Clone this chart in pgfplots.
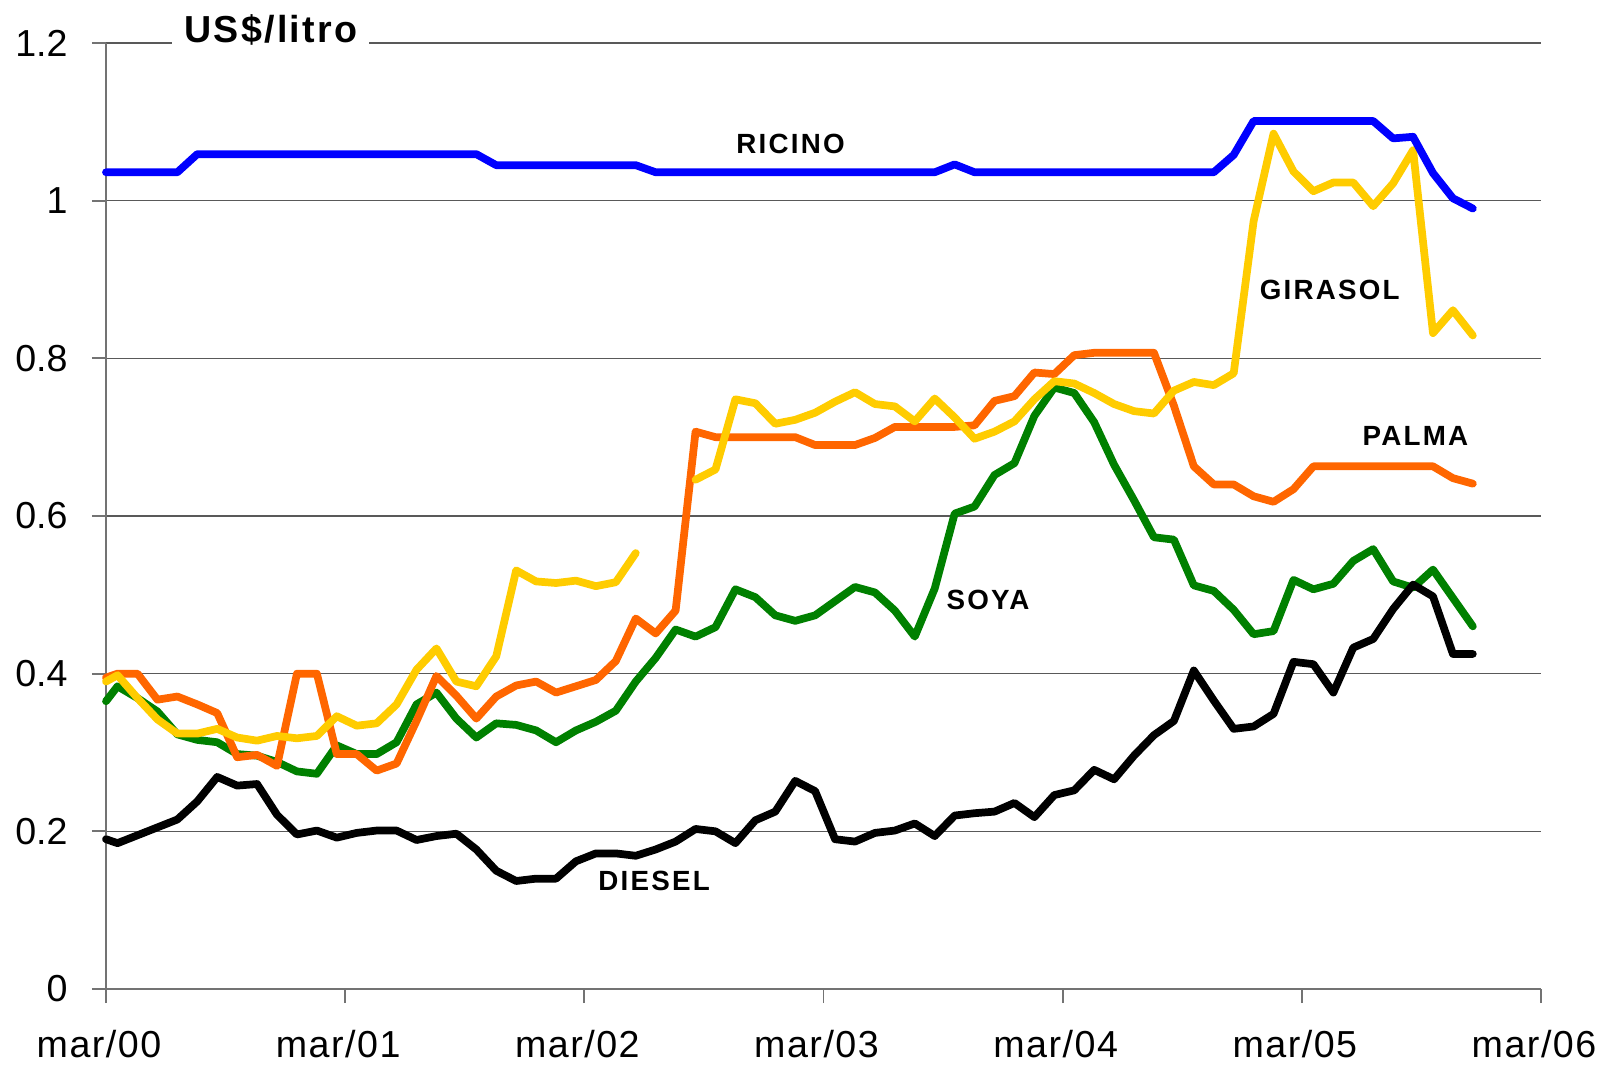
\documentclass[border=0pt]{standalone}
\usepackage{fontspec}
\setmainfont{Liberation Sans}
\newfontfamily\lblfont[LetterSpace=8]{Liberation Sans}
\newfontfamily\titlefont[LetterSpace=6]{Liberation Sans}
\newfontfamily\tickfont[LetterSpace=4]{Liberation Sans}
\usepackage{pgfplots}
\usepackage{pgfplotstable}
\pgfplotsset{compat=1.18}

\definecolor{ricino}{RGB}{0,0,255}
\definecolor{girasol}{RGB}{255,204,0}
\definecolor{palma}{RGB}{255,102,0}
\definecolor{soya}{RGB}{0,128,0}

% months since mar/00; US$/litro
\pgfplotstableread{
x      ric    gir    pal    soy    die
0      1.036  0.390  0.395  0.365  0.190
0.58   1.036  0.398  0.400  0.384  0.185
1.58   1.036  0.369  0.400  0.369  0.195
2.58   1.036  0.342  0.367  0.352  0.205
3.58   1.036  0.324  0.371  0.323  0.215
4.58   1.059  0.324  0.361  0.316  0.238
5.58   1.059  0.330  0.350  0.313  0.269
6.58   1.059  0.319  0.294  0.298  0.258
7.58   1.059  0.315  0.297  0.296  0.260
8.58   1.059  0.321  0.283  0.288  0.221
9.58   1.059  0.318  0.400  0.276  0.196
10.58  1.059  0.321  0.400  0.273  0.201
11.58  1.059  0.346  0.298  0.309  0.192
12.58  1.059  0.334  0.298  0.298  0.198
13.58  1.059  0.337  0.277  0.298  0.201
14.58  1.059  0.361  0.286  0.313  0.201
15.58  1.059  0.405  0.340  0.361  0.189
16.58  1.059  0.432  0.397  0.376  0.194
17.58  1.059  0.390  0.372  0.343  0.197
18.58  1.059  0.384  0.343  0.319  0.177
19.58  1.045  0.422  0.371  0.337  0.150
20.58  1.045  0.531  0.385  0.335  0.137
21.58  1.045  0.517  0.390  0.328  0.140
22.58  1.045  0.515  0.376  0.313  0.140
23.58  1.045  0.518  0.384  0.328  0.162
24.58  1.045  0.511  0.392  0.339  0.172
25.58  1.045  0.516  0.416  0.353  0.172
26.58  1.045  0.553  0.470  0.390  0.169
27.58  1.036  nan    0.451  0.420  0.177
28.58  1.036  nan    0.480  0.456  0.187
29.58  1.036  0.646  0.707  0.447  0.203
30.58  1.036  0.659  0.700  0.459  0.200
31.58  1.036  0.748  0.700  0.507  0.185
32.58  1.036  0.743  0.700  0.497  0.214
33.58  1.036  0.717  0.700  0.474  0.225
34.58  1.036  0.722  0.700  0.467  0.264
35.58  1.036  0.731  0.690  0.474  0.251
36.58  1.036  0.745  0.690  0.492  0.190
37.58  1.036  0.757  0.690  0.510  0.187
38.58  1.036  0.742  0.699  0.503  0.198
39.58  1.036  0.739  0.713  0.480  0.201
40.58  1.036  0.720  0.713  0.447  0.210
41.58  1.036  0.749  0.713  0.508  0.194
42.58  1.046  0.725  0.713  0.603  0.220
43.58  1.036  0.698  0.715  0.612  0.223
44.58  1.036  0.707  0.746  0.652  0.225
45.58  1.036  0.720  0.752  0.667  0.236
46.58  1.036  0.748  0.782  0.727  0.218
47.58  1.036  0.771  0.780  0.763  0.246
48.58  1.036  0.768  0.804  0.756  0.252
49.58  1.036  0.756  0.807  0.719  0.278
50.58  1.036  0.742  0.807  0.665  0.266
51.58  1.036  0.733  0.807  0.620  0.296
52.58  1.036  0.730  0.807  0.573  0.322
53.58  1.036  0.759  0.740  0.570  0.340
54.58  1.036  0.770  0.663  0.512  0.404
55.58  1.036  0.766  0.640  0.505  0.366
56.58  1.058  0.781  0.640  0.481  0.330
57.58  1.101  0.974  0.625  0.450  0.333
58.58  1.101  1.085  0.618  0.454  0.349
59.58  1.101  1.037  0.634  0.519  0.415
60.58  1.101  1.012  0.663  0.507  0.412
61.58  1.101  1.023  0.663  0.514  0.376
62.58  1.101  1.023  0.663  0.543  0.433
63.58  1.101  0.993  0.663  0.558  0.444
64.58  1.079  1.022  0.663  0.517  0.482
65.58  1.081  1.064  0.663  0.509  0.513
66.58  1.035  0.832  0.663  0.532  0.498
67.58  1.003  0.861  0.648  0.496  0.425
68.58  0.990  0.829  0.641  0.460  0.425
}\prices

\begin{document}
\begin{tikzpicture}
\begin{axis}[
  at={(1.06cm,0.79cm)}, anchor=south west,
  scale only axis,
  width=14.35cm, height=9.46cm,
  xmin=0, xmax=72, ymin=0, ymax=1.2,
  axis x line=bottom, axis y line=left,
  axis line style={black!55, line width=0.5pt, -},
  xtick={0,12,24,36,48,60,72},
  xticklabels={mar/00,mar/01,mar/02,mar/03,mar/04,mar/05,mar/06},
  ytick={0,0.2,0.4,0.6,0.8,1,1.2},
  yticklabels={0,0.2,0.4,0.6,0.8,1,1.2},
  tick align=outside,
  major tick length=0.14cm,
  tick style={black!55, line width=0.5pt},
  ymajorgrids,
  major grid style={black!65, line width=0.45pt},
  x tick label style={font=\tickfont\fontsize{10.7}{12}\selectfont, anchor=north, yshift=-0.15cm, xshift=-0.07cm},
  y tick label style={font=\fontsize{10.7}{12}\selectfont, anchor=east, xshift=-0.12cm},
  /pgf/number format/assume math mode=true,
  clip=false,
  unbounded coords=jump,
  every axis plot/.append style={line width=2.2pt, line join=round, line cap=round, mark=none},
]
\addplot[soya] table[x=x, y=soy] {\prices};
\addplot[palma] table[x=x, y=pal] {\prices};
\addplot[girasol] table[x=x, y=gir] {\prices};
\addplot[black] table[x=x, y=die] {\prices};
\addplot[ricino] table[x=x, y=ric] {\prices};

\node[fill=white, inner xsep=0.12cm, inner ysep=0.05cm, anchor=base,
  font=\titlefont\bfseries\fontsize{10.7}{12}\selectfont] at (axis cs:8.27,1.2) {US\$/litro};

\begin{scope}[every node/.style={font=\lblfont\bfseries\fontsize{7.9}{9}\selectfont, inner sep=0pt}]
\node at (axis cs:34.35,1.072) {RICINO};
\node at (axis cs:61.4,0.887) {GIRASOL};
\node at (axis cs:65.7,0.702) {PALMA};
\node at (axis cs:44.25,0.493) {SOYA};
\node at (axis cs:27.5,0.137) {DIESEL};
\end{scope}
\end{axis}
\pgfresetboundingbox
\path (0,0) rectangle (16cm,10.68cm);
\end{tikzpicture}
\end{document}
